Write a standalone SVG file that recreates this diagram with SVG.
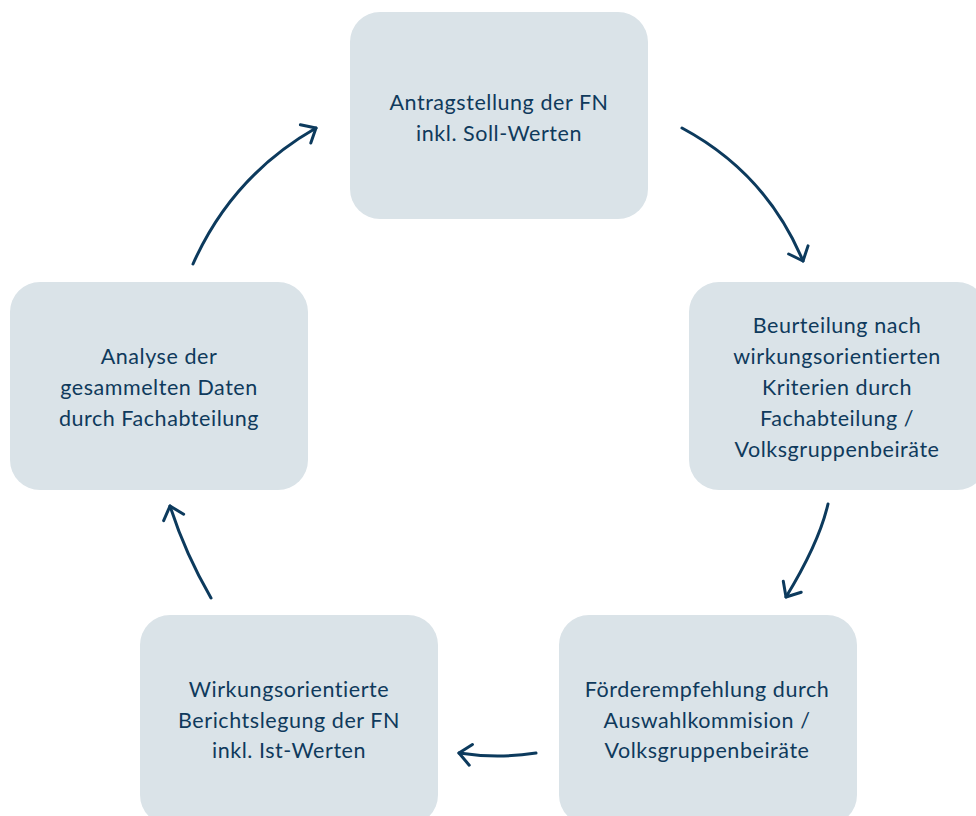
<svg xmlns="http://www.w3.org/2000/svg" width="976" height="816" viewBox="0 0 976 816">
  <style>
    .box { fill: #dae3e8; }
    .lbl { font-family: Lato, "Liberation Sans", sans-serif; font-size: 21.5px; letter-spacing: 0.55px; fill: #0f3a5c; text-anchor: middle; }
    .conn { fill: none; stroke: #0c3a5d; stroke-width: 3; stroke-linecap: round; marker-end: url(#arrow); }
  </style>
  <defs>
    <marker id="arrow" markerUnits="userSpaceOnUse" markerWidth="30" markerHeight="30" viewBox="-15 -15 30 30" refX="0" refY="0" orient="auto">
      <path d="M-12,-10.5 L0,0 L-12,10.5" fill="none" stroke="#0c3a5d" stroke-width="3" stroke-linecap="round" stroke-linejoin="round"/>
    </marker>
  </defs>
  <rect width="976" height="816" fill="#ffffff"/>

  <g id="node-antrag">
    <rect class="box" x="350" y="12" width="298" height="207" rx="30"/>
    <text class="lbl" x="499" y="110">Antragstellung der FN</text>
    <text class="lbl" x="499" y="140.5">inkl. Soll-Werten</text>
  </g>

  <g id="node-beurteilung">
    <rect class="box" x="689" y="282" width="298" height="208" rx="30"/>
    <text class="lbl" x="837" y="333">Beurteilung nach</text>
    <text class="lbl" x="837" y="364">wirkungsorientierten</text>
    <text class="lbl" x="837" y="395">Kriterien durch</text>
    <text class="lbl" x="837" y="426">Fachabteilung /</text>
    <text class="lbl" x="837" y="457">Volksgruppenbeiräte</text>
  </g>

  <g id="node-foerder">
    <rect class="box" x="559" y="615" width="298" height="210" rx="30"/>
    <text class="lbl" x="707" y="697">Förderempfehlung durch</text>
    <text class="lbl" x="707" y="727.5">Auswahlkommision /</text>
    <text class="lbl" x="707" y="758">Volksgruppenbeiräte</text>
  </g>

  <g id="node-bericht">
    <rect class="box" x="140" y="615" width="298" height="210" rx="30"/>
    <text class="lbl" x="289" y="697">Wirkungsorientierte</text>
    <text class="lbl" x="289" y="727.5">Berichtslegung der FN</text>
    <text class="lbl" x="289" y="758">inkl. Ist-Werten</text>
  </g>

  <g id="node-analyse">
    <rect class="box" x="10" y="282" width="298" height="208" rx="30"/>
    <text class="lbl" x="159" y="364">Analyse der</text>
    <text class="lbl" x="159" y="395">gesammelten Daten</text>
    <text class="lbl" x="159" y="426">durch Fachabteilung</text>
  </g>

  <g id="connectors">
    <path class="conn" d="M682,128 Q766,173 803,261"/>
    <path class="conn" d="M828,504 Q819,543 786,597"/>
    <path class="conn" d="M536,753 Q497.5,759 459,753"/>
    <path class="conn" d="M211,598 Q185,553 170,506"/>
    <path class="conn" d="M193,264 Q232,176 316,128"/>
  </g>
</svg>
